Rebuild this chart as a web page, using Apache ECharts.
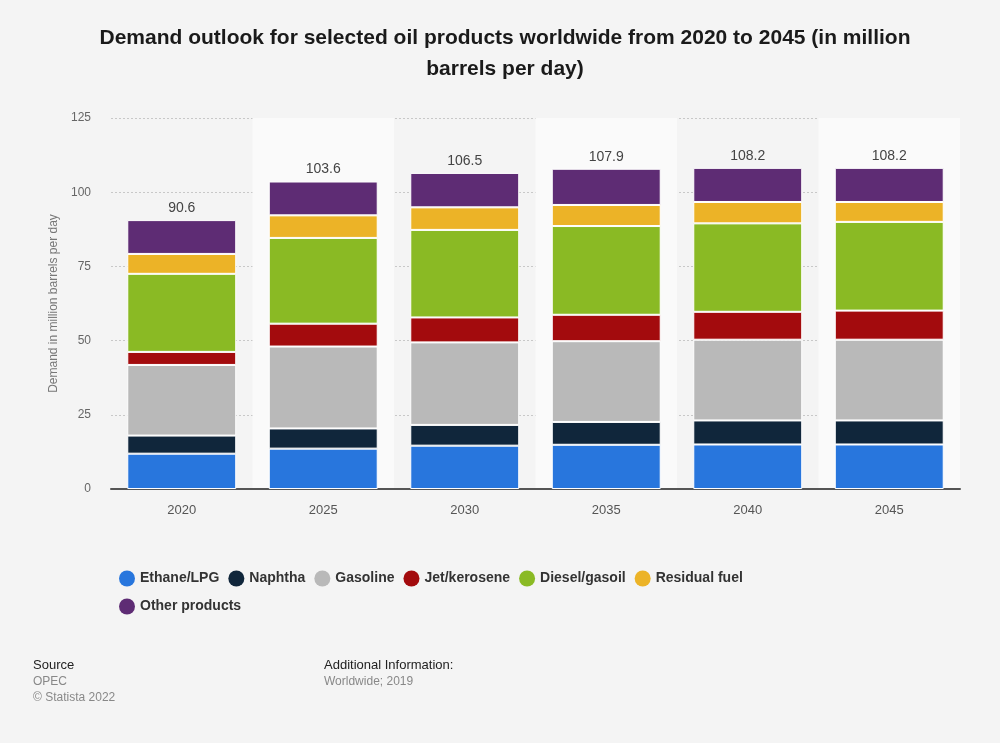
<!DOCTYPE html>
<html>
<head>
<meta charset="utf-8">
<script src="https://cdn.jsdelivr.net/npm/echarts@6/dist/echarts.min.js"></script>
<style>
html,body{margin:0;padding:0;background:#f4f4f4;}
#chart{width:1000px;height:743px;}
</style>
</head>
<body>
<div id="chart"></div>
<script>
const categories = ['2020', '2025', '2030', '2035', '2040', '2045'];
const ethaneLPG   = [11.9, 13.6, 14.6, 14.9, 15.0, 15.0];
const naphtha     = [6.1, 6.8, 7.0, 7.7, 8.1, 8.1];
const gasoline    = [23.8, 27.6, 27.8, 27.2, 27.2, 27.2];
const jetKerosene = [4.4, 7.7, 8.4, 8.9, 9.4, 9.8];
const dieselGasoil= [26.3, 28.9, 29.5, 29.9, 29.8, 29.9];
const residualFuel= [6.7, 7.6, 7.6, 7.1, 7.2, 6.7];
const otherProducts=[11.4, 11.4, 11.6, 12.2, 11.5, 11.5];
const totals      = [90.6, 103.6, 106.5, 107.9, 108.2, 108.2];
const yTicks = [0, 25, 50, 75, 100, 125];

const seriesDefs = [
  ['Ethane/LPG', ethaneLPG, '#2876dd'],
  ['Naphtha', naphtha, '#10263b'],
  ['Gasoline', gasoline, '#b9b9b9'],
  ['Jet/kerosene', jetKerosene, '#a30b0d'],
  ['Diesel/gasoil', dieselGasoil, '#8aba24'],
  ['Residual fuel', residualFuel, '#ecb327'],
  ['Other products', otherProducts, '#5e2c74']
];

const chart = echarts.init(document.getElementById('chart'));
const FONT = '"Liberation Sans", Arial, sans-serif';

const series = seriesDefs.map(([name, data, color], i) => ({
  name, type: 'bar', stack: 'total', data,
  barWidth: '77%',
  itemStyle: { color, borderColor: '#ffffff', borderWidth: 1 },
  emphasis: { disabled: true },
  label: i === seriesDefs.length - 1 ? {
    show: true, position: 'top', distance: 5,
    formatter: p => totals[p.dataIndex].toFixed(1),
    color: '#444', fontSize: 14, fontFamily: FONT
  } : { show: false }
}));

chart.setOption({
  backgroundColor: '#f4f4f4',
  animation: false,
  textStyle: { fontFamily: FONT },
  title: {
    text: 'Demand outlook for selected oil products worldwide from 2020 to 2045 (in million\nbarrels per day)',
    left: 500, top: 18, textAlign: 'center',
    textStyle: { fontSize: 21, fontWeight: 'bold', color: '#1a1a1a', lineHeight: 31, fontFamily: FONT }
  },
  grid: { left: 111, right: 40, top: 118, bottom: 254, containLabel: false },
  legend: {
    left: 114, top: 564, width: 640,
    icon: 'circle', itemWidth: 16, itemHeight: 16, itemGap: 9,
    itemStyle: { borderWidth: 0 },
    textStyle: { fontSize: 14, fontWeight: 'bold', color: '#333', fontFamily: FONT, lineHeight: 19 },
    data: seriesDefs.map(d => d[0])
  },
  xAxis: {
    type: 'category', data: categories,
    axisLine: { show: true, lineStyle: { color: '#555', width: 2 } },
    axisTick: { show: false },
    axisLabel: { color: '#555', fontSize: 13, margin: 15, fontFamily: FONT },
    splitArea: { show: true, areaStyle: { color: ['rgba(0,0,0,0)', '#fafafa'] } }
  },
  yAxis: {
    type: 'value', min: 0, max: 125, interval: 25,
    name: 'Demand in million barrels per day',
    nameLocation: 'middle', nameGap: 50, nameRotate: 90,
    nameTextStyle: { color: '#777', fontSize: 12, fontFamily: FONT },
    axisLine: { show: false }, axisTick: { show: false },
    axisLabel: { color: '#666', fontSize: 12, margin: 20, fontFamily: FONT,
      formatter: v => yTicks.includes(v) ? String(v) : '' },
    splitLine: { lineStyle: { color: '#c8c8c8', type: [2, 2], width: 1 } }
  },
  series,
  graphic: [
    { type: 'text', left: 33, top: 659, style: { text: 'Source', fill: '#222', font: '13px ' + FONT } },
    { type: 'text', left: 33, top: 676, style: { text: 'OPEC', fill: '#888', font: '12px ' + FONT } },
    { type: 'text', left: 33, top: 692, style: { text: '© Statista 2022', fill: '#888', font: '12px ' + FONT } },
    { type: 'text', left: 324, top: 659, style: { text: 'Additional Information:', fill: '#222', font: '13px ' + FONT } },
    { type: 'text', left: 324, top: 676, style: { text: 'Worldwide; 2019', fill: '#888', font: '12px ' + FONT } }
  ]
});
</script>
</body>
</html>
